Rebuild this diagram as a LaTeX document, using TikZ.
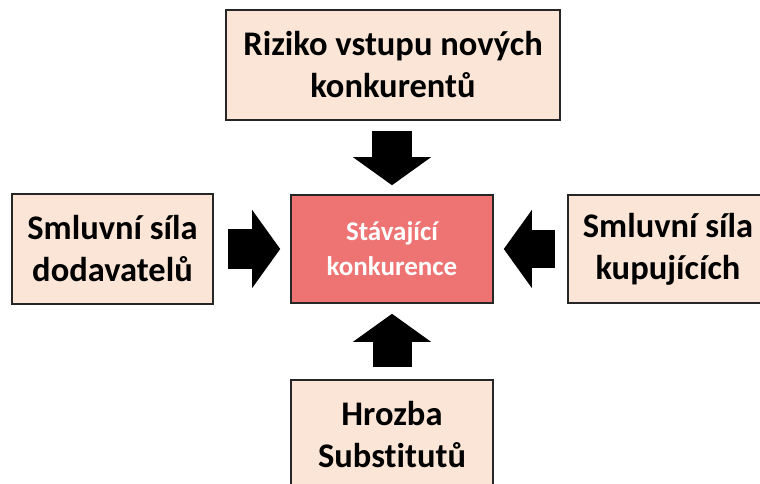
\documentclass[tikz,border=0pt]{standalone}
\usepackage{fontspec}
\setmainfont{Carlito}[Ligatures={NoCommon}]
\usepackage{tikz}
\usetikzlibrary{positioning, arrows.meta, calc}
\definecolor{cForce}{HTML}{FBE5D6}
\definecolor{cRival}{HTML}{EE7373}
\definecolor{cEdge}{HTML}{262626}

\begin{document}
\begin{tikzpicture}[x=1pt, y=-1pt,
    force/.style={draw=cEdge, line width=1.6pt, fill=cForce, inner sep=0pt,
      align=center, font=\bfseries\fontsize{34.5}{42}\selectfont},
    rival/.style={force, fill=cRival, text=white,
      font=\bfseries\fontsize{27}{35}\selectfont},
    push/.style={line width=#1, black,
      -{Triangle[length=28pt, width=78pt, line width=0pt]}}
  ]
    \clip (0,0) rectangle (760,483);
    \useasboundingbox (0,0) rectangle (760,483);

    % centre and the four forces
    \node[rival, minimum width=202pt, minimum height=108pt] (rival) at (392,249)
      {Stávající\\konkurence};
    \node[force, minimum width=334pt, minimum height=110pt] (entry) at (393,65)
      {Riziko vstupu nových\\konkurentů};
    \node[force, minimum width=201pt, minimum height=110pt] (supply) at (112.5,249)
      {Smluvní síla\\dodavatelů};
    \node[force, minimum width=200pt, minimum height=108pt] (buyer) at (668,249)
      {Smluvní síla\\kupujících};
    \node[force, minimum width=202pt, minimum height=110pt] (subst) at (392,435)
      {Hrozba\\Substitutů};

    % block arrows
    \draw[push=40pt, shorten <=10pt, shorten >=9pt]
      (entry.south -| rival.north) -- (rival.north);
    \draw[push=40pt, shorten <=14pt, shorten >=10pt] (supply.east) -- (rival.west);
    \draw[push=38pt, shorten <=12pt, shorten >=10pt] (buyer.west) -- (rival.east);
    \draw[push=39pt, shorten <=12pt, shorten >=10pt] (subst.north) -- (rival.south);
\end{tikzpicture}
\end{document}
